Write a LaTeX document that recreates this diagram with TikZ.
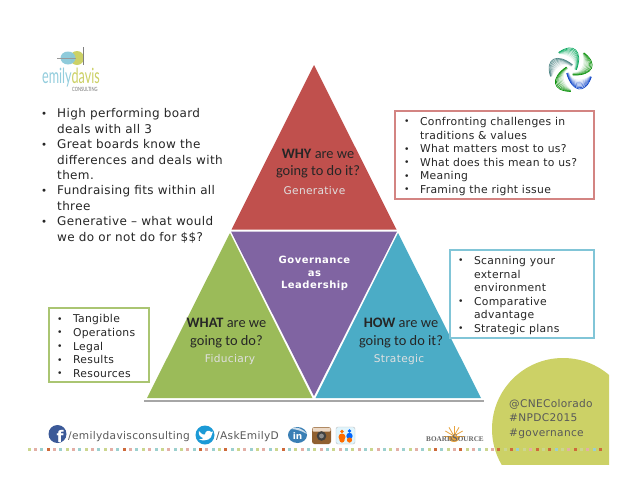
\documentclass[tikz,border=0pt]{standalone}
\usepackage{fontspec}
\setmainfont{DejaVu Sans}
\newfontfamily\spaced[LetterSpace=3]{DejaVu Sans}
\newfontfamily\widebold[LetterSpace=5]{DejaVu Sans Bold}
\newfontfamily\carlito{Carlito}
\newfontfamily\lato{Lato}
\newfontfamily\serifname{Liberation Serif}
\usetikzlibrary{calc}
\definecolor{whyred}{HTML}{C0504D}
\definecolor{govpurple}{HTML}{8064A2}
\definecolor{whatgreen}{HTML}{9BBB59}
\definecolor{howblue}{HTML}{4BACC6}
\definecolor{spotolive}{HTML}{CCD166}
\definecolor{bodytext}{HTML}{262626}
\definecolor{handletext}{HTML}{595959}
\definecolor{dotrose}{HTML}{E3AFA6}
\definecolor{dotteal}{HTML}{9CD0CE}
\definecolor{dotolive}{HTML}{CBD68F}
\definecolor{dotdark}{HTML}{CE6A3A}
\definecolor{fbblue}{HTML}{3B5998}
\definecolor{twblue}{HTML}{1C9AD6}
\definecolor{liblue}{HTML}{3A7FB5}
\definecolor{sunorange}{HTML}{E8A33D}
\tikzset{
    listbox/.style={draw, line width=1.3pt, inner sep=0pt, align=left,
                    text=bodytext, font=\spaced\fontsize{10.8}{13.6}\selectfont},
    bullets/.style={inner sep=0pt, align=left, text=bodytext,
                    font=\spaced\fontsize{12}{15.4}\selectfont},
    question/.style={inner sep=0pt, align=center, text=black!85,
                     font=\carlito\fontsize{14.4}{17.8}\selectfont},
    kind/.style={inner sep=0pt, text=white!88!black,
                 font=\spaced\fontsize{10.6}{12}\selectfont},
    handle/.style={inner sep=0pt, anchor=base west, text=handletext,
                   font=\spaced\fontsize{10.6}{12}\selectfont},
    blade/.style={line width=0.7pt, line cap=round},
}
\newcommand{\bul}[2][16]{\makebox[#1pt][l]{\raisebox{0.5pt}{\scalebox{0.85}{•}}}#2}
\newcommand{\cont}[2][16]{\hspace*{#1pt}#2}

\begin{document}
\begin{tikzpicture}[x=1pt,y=-1pt]
    \useasboundingbox (0,0) rectangle (638,493);
    \fill[white] (0,0) rectangle (638,493);

    % spot in the corner
    \begin{scope}
        \clip (480,350) rectangle (609,464);
        \fill[spotolive] (563,429) circle (71);
    \end{scope}

    % pyramid
    \draw[black!35, line width=1.3pt] (144,401) -- (484,401);
    \fill[whatgreen] (230,233) -- (312.5,398) -- (147,398) -- cycle;
    \fill[howblue] (398,233) -- (481,398) -- (315.5,398) -- cycle;
    \fill[whyred] (314,65) -- (396.5,229.5) -- (231.5,229.5) -- cycle;
    \fill[govpurple] (231,231.5) -- (397,231.5) -- (314,396) -- cycle;

    \node[question] (why) at (318,163.5) {\textbf{WHY} are we\\going to do it?};
    \node[kind] (generative) at (314.5,190.5) {Generative};
    \node[inner sep=0pt, align=center, text=white,
          font=\widebold\fontsize{10}{12.4}\selectfont] (gal) at (314.5,273.5)
          {Governance\\as\\Leadership};
    \node[question] (what) at (226.5,333) {\textbf{WHAT} are we\\going to do?};
    \node[kind] (fiduciary) at (230,359.5) {Fiduciary};
    \node[question] (how) at (401,333) {\textbf{HOW} are we\\going to do it?};
    \node[kind] (strategic) at (399,359.5) {Strategic};

    % lists
    \node[bullets, anchor=north west] (boardnotes) at (41,108.5) {%
        \bul{High performing board}\\
        \cont{deals with all 3}\\
        \bul{Great boards know the}\\
        \cont{differences and deals with}\\
        \cont{them.}\\
        \bul{Fundraising fits within all}\\
        \cont{three}\\
        \bul{Generative – what would}\\
        \cont{we do or not do for \$\$?}};
    \node[listbox, draw=whyred!70!white, minimum width=199pt, minimum height=88pt]
        (whybox) at (494.5,155) {\hspace*{7pt}\parbox{188pt}{\raggedright\vspace*{3pt}
        \bul{Confronting challenges in}\\
        \cont{traditions \& values}\\
        \bul{What matters most to us?}\\
        \bul{What does this mean to us?}\\
        \bul{Meaning}\\
        \bul{Framing the right issue}}};
    \node[listbox, draw=howblue!70!white, minimum width=144pt, minimum height=88pt]
        (howbox) at (522,294) {\hspace*{6pt}\parbox{134pt}{\raggedright\vspace*{3pt}
        \bul{Scanning your}\\
        \cont{external}\\
        \cont{environment}\\
        \bul{Comparative}\\
        \cont{advantage}\\
        \bul{Strategic plans}}};
    \node[listbox, draw=whatgreen!85!white, minimum width=100pt, minimum height=74pt]
        (whatbox) at (99,345) {\hspace*{6pt}\parbox{90pt}{\raggedright\vspace*{2pt}
        \bul{Tangible}\\
        \bul{Operations}\\
        \bul{Legal}\\
        \bul{Results}\\
        \bul{Resources}}};

    % handles
    \node[handle] (cne) at (509,407) {@CNEColorado};
    \node[handle] (npdc) at (509,421.5) {\#NPDC2015};
    \node[handle] (gov) at (509,436) {\#governance};
    \node[handle] (fbname) at (68,439) {/emilydavisconsulting};
    \node[handle] (twname) at (216,439) {/AskEmilyD};

    % dotted rule
    \foreach \i/\dotname in {0/dotolive,1/dotrose,2/dotteal}{
        \foreach \n in {0,3,...,87}{
            \fill[\dotname] ({29+6.35*(\n+\i)-1.5},448) rectangle ++(3,3);
        }
    }
    \foreach \i in {3,15,27,31,40,64,68,74,76,80,82,86,90}{
        \fill[dotdark] ({29+6.35*\i-1.5},448) rectangle ++(3,3);
    }

    % social icons
    \fill[fbblue] (57.5,434) circle (9);
    \node[inner sep=0pt, text=white, font=\bfseries\fontsize{16}{16}\selectfont] (fb) at (60,436) {f};
    \fill[twblue] (205,435) circle (9.5);
    \fill[white] (199,431) .. controls (202,435) and (204,434.5) .. (205,434.5)
        .. controls (205,430) and (210,430) .. (211,432) -- (213,431.5) -- (212,434)
        .. controls (212,439) and (206,442) .. (199,439.5)
        .. controls (202,439.5) and (203,438.5) .. (203,438)
        .. controls (200,437) and (198,434) .. (199,431) -- cycle;
    \fill[liblue] (297.5,435) ellipse (9.5 and 8);
    \fill[white!75!liblue] (291,429) .. controls (296,426) and (302,428) .. (307,434)
        .. controls (302,431) and (296,429) .. (291,429) -- cycle;
    \node[inner sep=0pt, text=white, font=\bfseries\fontsize{9}{9}\selectfont] (linkedin) at (297.5,436) {in};
    \fill[brown!75!black, rounded corners=2.5pt] (312,427) rectangle (331,444);
    \fill[brown!30!white, rounded corners=1pt] (312.5,427.5) rectangle (330.5,431.5);
    \fill[black!75] (321.5,436) circle (4.8);
    \fill[black!45] (321.5,436) circle (2.4);
    \draw[black!25, fill=cyan!12!white, rounded corners=2pt] (336,427) rectangle (355,444);
    \fill[orange!85!red] (342,437) circle (3.5);
    \fill[orange!85!red] (342,431.5) circle (1.8);
    \fill[blue!60!cyan] (349.5,436) circle (3.2);
    \fill[blue!60!cyan] (349.5,431) circle (1.8);
    \fill[orange!85!red] (342,440) circle (2.6);
    \fill[orange!85!red] (349.5,440) circle (2.6);

    % logos
    \fill[spotolive] (77,58) circle (7);
    \fill[howblue!65!white, opacity=0.95] (68,58) ellipse (7.5 and 6.5);
    \draw[black!40, line width=0.4pt] (57,58) -- (76,58);
    \draw[black!50, line width=0.5pt] (83,47) -- (83,65);
    \node[inner sep=0pt, anchor=base west, xscale=0.6,
          font=\lato\fontsize{21}{21}\selectfont] (emily) at (42,83)
          {\textcolor{howblue!60!white}{emily}\textcolor{spotolive}{davis}};
    \node[inner sep=0pt, anchor=base west, xscale=0.7, text=black!55,
          font=\lato\fontsize{5.8}{6}\selectfont] (consulting) at (72,91.5) {CONSULTING};

    \foreach \a/\tint in {0/green!55!black,72/teal!70!green,144/teal!45!gray,216/green!55!black,288/blue!55!teal}{
        \begin{scope}[shift={(571,70)}, rotate=\a]
            \foreach \k in {0,1,...,7}{
                \pgfmathsetmacro{\fade}{12*\k+10}
                \draw[blade, \tint!\fade!white] (2,{3+0.3*\k})
                    .. controls ({10+1.7*\k},{3+0.4*\k}) and ({15+1.8*\k},{-4-0.3*\k})
                    .. ({12+0.15*\k},{-16-0.15*\k});
            }
        \end{scope}
    }

    \fill[sunorange] (448,436) arc (180:0:6) -- cycle;
    \foreach \s in {0,30,...,180}{
        \draw[sunorange, line width=0.8pt] (454,436) -- ++({180+\s}:10);
    }
    \node[inner sep=0pt, anchor=base west, text=black!60,
          font=\serifname\bfseries\fontsize{7.2}{7}\selectfont] (boardsource) at (426,441)
          {BOARD{\fontsize{10}{9}\selectfont S}OURCE};
\end{tikzpicture}
\end{document}
